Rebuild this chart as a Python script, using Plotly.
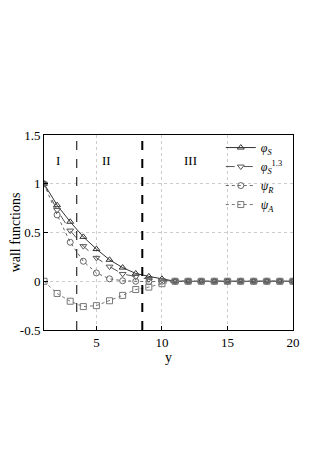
import plotly.graph_objects as go

# wall-normal coordinate
y_pos = list(range(1, 21))

phi_s = [1.0, 0.78, 0.61, 0.455, 0.33, 0.22, 0.14, 0.08, 0.05, 0.025,
         0, 0, 0, 0, 0, 0, 0, 0, 0, 0]
phi_s13 = [1.0, 0.73, 0.52, 0.36, 0.24, 0.15, 0.075, 0.045, 0.02, 0.01,
           0, 0, 0, 0, 0, 0, 0, 0, 0, 0]
psi_r = [1.0, 0.68, 0.40, 0.205, 0.085, 0.025, 0.005, 0.0, -0.005, 0.0,
         0, 0, 0, 0, 0, 0, 0, 0, 0, 0]
psi_a = [0.0, -0.125, -0.205, -0.26, -0.25, -0.2, -0.145, -0.085, -0.06, -0.025,
         0, 0, 0, 0, 0, 0, 0, 0, 0, 0]

region_bounds = [3.5, 8.5]
region_labels = ["I", "II", "III"]
region_label_x = [2.1, 5.8, 12.2]
region_label_y = 1.24

SERIF = "Liberation Serif, Times New Roman, serif"

fig = go.Figure()

series = [
    ("<i>φ</i><sub><i>S</i></sub>", phi_s, "triangle-up-open", "#333333", "solid"),
    ("<i>φ</i><sub><i>S</i></sub><sup>1.3</sup>", phi_s13, "triangle-down-open", "#555555", "dash"),
    ("<i>ψ</i><sub><i>R</i></sub>", psi_r, "circle-open", "#666666", "dot"),
    ("<i>ψ</i><sub><i>A</i></sub>", psi_a, "square-open", "#777777", "dot"),
]

for name, vals, sym, col, dash in series:
    fig.add_trace(go.Scatter(
        x=y_pos, y=vals, mode='lines+markers', name=name,
        line=dict(color=col, width=1, dash=dash),
        marker=dict(symbol=sym, size=6, color=col, line=dict(width=1, color=col))
    ))

# region boundaries
for i, xb in enumerate(region_bounds):
    fig.add_shape(type='line', xref='x', yref='paper', x0=xb, x1=xb, y0=0, y1=1,
                  line=dict(color='black', width=1 if i == 0 else 2, dash='dash'))

for lab, lx in zip(region_labels, region_label_x):
    fig.add_annotation(x=lx, y=region_label_y, text=lab, showarrow=False,
                       font=dict(family=SERIF, size=13, color='black'))

axis_common = dict(
    showline=True, linecolor='black', linewidth=1, mirror=True,
    ticks='inside', ticklen=4, tickcolor='black',
    showgrid=True, gridcolor='#cccccc', griddash='dot', gridwidth=1,
    zeroline=False, automargin=False,
    tickfont=dict(family=SERIF, size=13, color='black'),
)

fig.update_xaxes(range=[1, 20], tickvals=[5, 10, 15, 20],
                 title=dict(text='y', font=dict(family=SERIF, size=14, color='black'), standoff=0),
                 **axis_common)
fig.update_yaxes(range=[-0.5, 1.5], tickvals=[-0.5, 0, 0.5, 1, 1.5],
                 ticktext=['-0.5', '0', '0.5', '1', '1.5'],
                 title=dict(text='wall functions', font=dict(family=SERIF, size=14, color='black'), standoff=0),
                 **axis_common)

# page body adds an 8px offset, margins account for it
fig.update_layout(
    width=330, height=468,
    margin=dict(l=36, r=45, t=127, b=146),
    paper_bgcolor='white', plot_bgcolor='white',
    font=dict(family=SERIF, color='black'),
    legend=dict(x=0.71, y=1.01, xanchor='left', yanchor='top',
                bgcolor='rgba(0,0,0,0)', font=dict(family=SERIF, size=12),
                itemwidth=30, tracegroupgap=0),
    showlegend=True,
)

fig.write_html("out.html")
